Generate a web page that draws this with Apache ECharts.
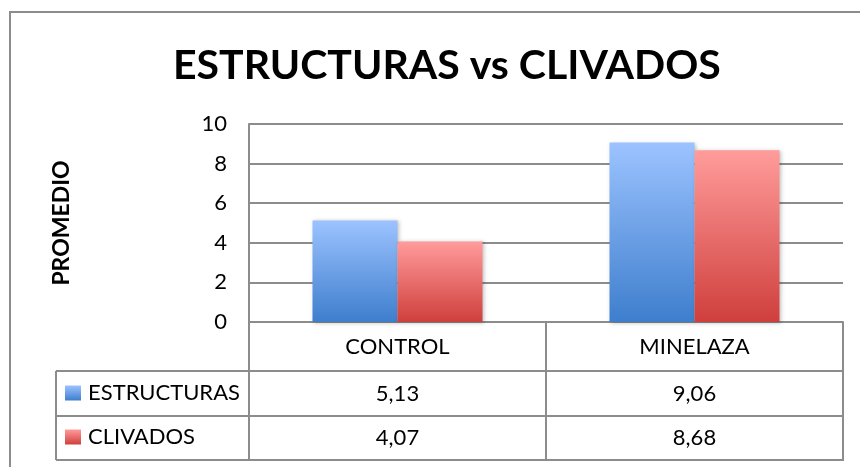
<!DOCTYPE html>
<html>
<head>
<meta charset="utf-8">
<script src="https://cdn.jsdelivr.net/npm/echarts@6/dist/echarts.min.js"></script>
<style>
html,body{margin:0;padding:0;background:#fff;}
#chart{width:860px;height:467px;}
</style>
</head>
<body>
<div id="chart"></div>
<script>
// datos del grafico
var categorias = ['CONTROL', 'MINELAZA'];
var estructuras = [5.13, 9.06];
var clivados = [4.07, 8.68];
var yTicks = [0, 2, 4, 6, 8, 10];

var FONT = 'Lato, "Open Sans", sans-serif';
var GRIS = '#8c8c8c';

// formato con coma decimal
function coma(v){
	return v.toFixed(2).replace('.', ',');
}

function degradado(arriba, abajo){
	return new echarts.graphic.LinearGradient(0, 0, 0, 1, [
		{offset: 0, color: arriba},
		{offset: 1, color: abajo}
	]);
}

var azul = degradado('#9cc3ff', '#3e7ecd');
var rojo = degradado('#ff9c9b', '#cf3f3c');

var chart = echarts.init(document.getElementById('chart'));

// eje de valores para cada fila de la tabla
function ejeFila(valores, offset){
	return {
		type: 'category',
		position: 'bottom',
		offset: offset,
		data: valores.map(coma),
		axisLine: {show: false},
		axisTick: {show: false},
		axisLabel: {color: '#000', fontSize: 22, fontFamily: FONT}
	};
}

chart.setOption({
	animation: false,
	title: {
		text: 'ESTRUCTURAS vs CLIVADOS',
		left: 168,
		top: 40,
		textStyle: {fontSize: 41, fontWeight: 'bold', color: '#000', fontFamily: FONT}
	},
	legend: {
		orient: 'vertical',
		left: 65,
		top: 382,
		padding: 0,
		itemWidth: 16,
		itemHeight: 15,
		itemGap: 22,
		icon: 'rect',
		textStyle: {fontSize: 22, color: '#000', fontFamily: FONT, padding: [0, 0, 0, 2]},
		data: ['ESTRUCTURAS', 'CLIVADOS']
	},
	grid: {left: 249, right: 17, top: 124, bottom: 145},
	xAxis: [{
		type: 'category',
		data: categorias,
		axisLine: {lineStyle: {color: GRIS, width: 2}},
		axisTick: {show: true, length: 138, lineStyle: {color: GRIS, width: 2}},
		axisLabel: {color: '#000', fontSize: 22, fontFamily: FONT, margin: 14}
	}, ejeFila(estructuras, 53), ejeFila(clivados, 97)],
	yAxis: {
		type: 'value',
		min: yTicks[0],
		max: yTicks[yTicks.length - 1],
		interval: 2,
		name: 'PROMEDIO',
		nameLocation: 'middle',
		nameRotate: 90,
		nameGap: 176,
		nameTextStyle: {fontSize: 23, fontWeight: 'bold', color: '#000', fontFamily: FONT},
		axisLine: {show: true, lineStyle: {color: GRIS, width: 2}},
		axisTick: {show: false},
		axisLabel: {color: '#000', fontSize: 22, fontFamily: FONT, margin: 22},
		splitLine: {lineStyle: {color: GRIS, width: 2}}
	},
	series: [{
		name: 'ESTRUCTURAS',
		type: 'bar',
		data: estructuras,
		barWidth: 85,
		barGap: '0%',
		itemStyle: {color: azul, shadowColor: 'rgba(0,0,0,0.25)', shadowBlur: 4, shadowOffsetX: 1, shadowOffsetY: 1}
	}, {
		name: 'CLIVADOS',
		type: 'bar',
		data: clivados,
		barWidth: 85,
		barGap: '0%',
		itemStyle: {color: rojo, shadowColor: 'rgba(0,0,0,0.25)', shadowBlur: 4, shadowOffsetX: 1, shadowOffsetY: 1}
	}],
	graphic: [
		// marco exterior
		{type: 'rect', shape: {x: 10, y: 12, width: 900, height: 500}, style: {fill: null, stroke: GRIS, lineWidth: 2}, silent: true},
		// lineas de la tabla
		{type: 'line', shape: {x1: 56, y1: 371, x2: 844, y2: 371}, style: {stroke: GRIS, lineWidth: 2}},
		{type: 'line', shape: {x1: 56, y1: 416, x2: 844, y2: 416}, style: {stroke: GRIS, lineWidth: 2}},
		{type: 'line', shape: {x1: 56, y1: 460, x2: 844, y2: 460}, style: {stroke: GRIS, lineWidth: 2}},
		{type: 'line', shape: {x1: 56, y1: 371, x2: 56, y2: 460}, style: {stroke: GRIS, lineWidth: 2}}
	]
});
</script>
</body>
</html>
